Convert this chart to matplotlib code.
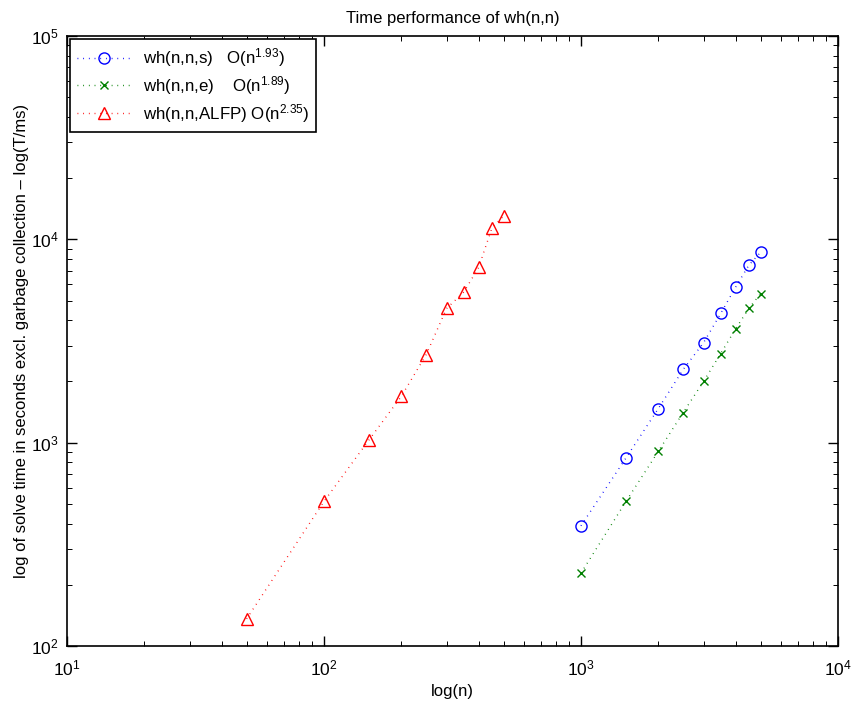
import numpy as np
import matplotlib
matplotlib.use("Agg")
import matplotlib.pyplot as plt
from matplotlib.ticker import LogLocator, NullFormatter

plt.rcParams['font.family'] = ['Liberation Sans', 'DejaVu Sans']
plt.rcParams['mathtext.default'] = 'regular'

# data
n_s = [1000, 1500, 2000, 2500, 3000, 3500, 4000, 4500, 5000]
t_s = [390, 844, 1470, 2290, 3100, 4320, 5820, 7450, 8630]

n_e = [1000, 1500, 2000, 2500, 3000, 3500, 4000, 4500, 5000]
t_e = [228, 516, 906, 1406, 2000, 2744, 3630, 4570, 5400]

n_alfp = [50, 100, 150, 200, 250, 300, 350, 400, 450, 500]
t_alfp = [136, 514, 1035, 1690, 2713, 4570, 5500, 7280, 11330, 13030]

labels = ["wh(n,n,s)   O(n$^{1.93}$)",
          "wh(n,n,e)    O(n$^{1.89}$)",
          "wh(n,n,ALFP) O(n$^{2.35}$)"]

fig = plt.figure(figsize=(8.55, 7.04), dpi=100)
ax = fig.add_axes([0.0784, 0.0824, 0.9016, 0.8665])

dots = (0, (0.6, 3.5))
ax.loglog(n_s, t_s, linestyle=dots, color='b', marker='o', markersize=8,
          markerfacecolor='none', linewidth=1, label=labels[0])
ax.loglog(n_e, t_e, linestyle=dots, color=(0, 0.5, 0), marker='x', markersize=6,
          linewidth=1, label=labels[1])
ax.loglog(n_alfp, t_alfp, linestyle=dots, color='r', marker='^', markersize=8.5,
          markerfacecolor='none', linewidth=1, label=labels[2])

ax.set_xlim(10, 1e4)
ax.set_ylim(100, 1e5)
ax.xaxis.set_major_locator(LogLocator(base=10, numticks=10))
ax.yaxis.set_major_locator(LogLocator(base=10, numticks=10))
ax.xaxis.set_minor_locator(LogLocator(base=10, subs=np.arange(2, 10), numticks=50))
ax.yaxis.set_minor_locator(LogLocator(base=10, subs=np.arange(2, 10), numticks=50))
ax.xaxis.set_minor_formatter(NullFormatter())
ax.yaxis.set_minor_formatter(NullFormatter())
ax.tick_params(which='both', direction='in', top=True, right=True, labelsize=12.5)
ax.tick_params(axis='x', which='major', pad=9)
ax.tick_params(axis='y', which='major', pad=6)
ax.tick_params(which='major', length=7, width=1)
ax.tick_params(which='minor', length=3.5, width=0.7)
for sp in ax.spines.values():
    sp.set_linewidth(1.2)

ax.set_title("Time performance of wh(n,n)", fontsize=12, pad=9)
ax.set_xlabel("log(n)", fontsize=12, labelpad=4)
ax.set_ylabel("log of solve time in seconds excl. garbage collection \u2013 log(T/ms)",
              fontsize=12, labelpad=1)

leg = ax.legend(loc='upper left', fontsize=12.2, fancybox=False, framealpha=1,
                edgecolor='black', borderaxespad=0.2, handlelength=3.2,
                labelspacing=0.3, borderpad=0.4, handletextpad=0.7)
leg.get_frame().set_linewidth(1.2)

fig.savefig("out.png", dpi=100)
